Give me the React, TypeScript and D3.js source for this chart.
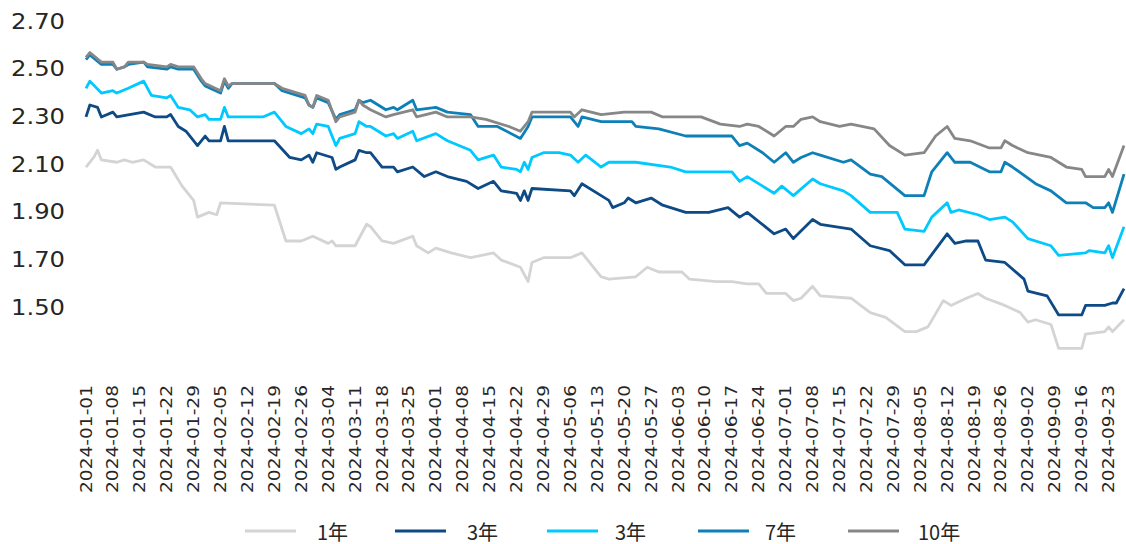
import React from "react";
import * as d3 from "d3";

type Pt = [string, number];

const seriesNames = ["1年", "3年", "3年", "7年", "10年"];
const seriesColors = ["#d4d4d4", "#0d4a86", "#00c9ff", "#0e80b8", "#878787"];

const y1: Pt[] = [
  ["2024-01-01", 2.09], ["2024-01-03", 2.13], ["2024-01-04", 2.16], ["2024-01-05", 2.12], ["2024-01-09", 2.11],
  ["2024-01-11", 2.12], ["2024-01-13", 2.11], ["2024-01-16", 2.12], ["2024-01-19", 2.09], ["2024-01-23", 2.09],
  ["2024-01-26", 2.01], ["2024-01-29", 1.95], ["2024-01-30", 1.88], ["2024-02-02", 1.9], ["2024-02-04", 1.89],
  ["2024-02-05", 1.94], ["2024-02-19", 1.93], ["2024-02-22", 1.78], ["2024-02-26", 1.78], ["2024-02-29", 1.8],
  ["2024-03-04", 1.77], ["2024-03-05", 1.78], ["2024-03-06", 1.76], ["2024-03-11", 1.76], ["2024-03-14", 1.85],
  ["2024-03-15", 1.84], ["2024-03-18", 1.78], ["2024-03-21", 1.77], ["2024-03-26", 1.8], ["2024-03-27", 1.76],
  ["2024-03-30", 1.73], ["2024-04-01", 1.75], ["2024-04-05", 1.73], ["2024-04-10", 1.71], ["2024-04-16", 1.73],
  ["2024-04-18", 1.7], ["2024-04-23", 1.67], ["2024-04-25", 1.61], ["2024-04-26", 1.69], ["2024-04-29", 1.71],
  ["2024-05-06", 1.71], ["2024-05-09", 1.73], ["2024-05-14", 1.63], ["2024-05-16", 1.62], ["2024-05-23", 1.63],
  ["2024-05-26", 1.67], ["2024-05-29", 1.65], ["2024-06-04", 1.65], ["2024-06-06", 1.62], ["2024-06-13", 1.61],
  ["2024-06-17", 1.61], ["2024-06-21", 1.6], ["2024-06-24", 1.6], ["2024-06-26", 1.56], ["2024-07-01", 1.56],
  ["2024-07-03", 1.53], ["2024-07-05", 1.54], ["2024-07-08", 1.59], ["2024-07-10", 1.55], ["2024-07-18", 1.54],
  ["2024-07-23", 1.48], ["2024-07-27", 1.46], ["2024-08-01", 1.4], ["2024-08-04", 1.4], ["2024-08-07", 1.42],
  ["2024-08-11", 1.53], ["2024-08-13", 1.51], ["2024-08-17", 1.54], ["2024-08-20", 1.56], ["2024-08-22", 1.54],
  ["2024-08-27", 1.51], ["2024-08-31", 1.48], ["2024-09-02", 1.44], ["2024-09-04", 1.45], ["2024-09-08", 1.43],
  ["2024-09-10", 1.33], ["2024-09-16", 1.33], ["2024-09-17", 1.39], ["2024-09-22", 1.4], ["2024-09-23", 1.42],
  ["2024-09-24", 1.4], ["2024-09-27", 1.45],
];

const y3: Pt[] = [
  ["2024-01-01", 2.3], ["2024-01-02", 2.35], ["2024-01-04", 2.34], ["2024-01-05", 2.3], ["2024-01-08", 2.32],
  ["2024-01-09", 2.3], ["2024-01-16", 2.32], ["2024-01-19", 2.3], ["2024-01-22", 2.3], ["2024-01-23", 2.31],
  ["2024-01-25", 2.26], ["2024-01-27", 2.24], ["2024-01-30", 2.18], ["2024-02-01", 2.22], ["2024-02-02", 2.2],
  ["2024-02-05", 2.2], ["2024-02-06", 2.26], ["2024-02-07", 2.2], ["2024-02-19", 2.2], ["2024-02-23", 2.13],
  ["2024-02-26", 2.12], ["2024-02-28", 2.14], ["2024-02-29", 2.11], ["2024-03-01", 2.15], ["2024-03-05", 2.13],
  ["2024-03-06", 2.08], ["2024-03-07", 2.09], ["2024-03-11", 2.12], ["2024-03-12", 2.16], ["2024-03-14", 2.15],
  ["2024-03-15", 2.15], ["2024-03-18", 2.09], ["2024-03-21", 2.09], ["2024-03-22", 2.07], ["2024-03-26", 2.09],
  ["2024-03-29", 2.05], ["2024-04-01", 2.07], ["2024-04-04", 2.05], ["2024-04-09", 2.03], ["2024-04-12", 2.0],
  ["2024-04-16", 2.03], ["2024-04-18", 1.99], ["2024-04-22", 1.98], ["2024-04-23", 1.95], ["2024-04-24", 1.99],
  ["2024-04-25", 1.95], ["2024-04-26", 2.0], ["2024-05-06", 1.99], ["2024-05-07", 1.97], ["2024-05-09", 2.02],
  ["2024-05-14", 1.97], ["2024-05-16", 1.95], ["2024-05-17", 1.92], ["2024-05-20", 1.94], ["2024-05-21", 1.96],
  ["2024-05-23", 1.94], ["2024-05-27", 1.96], ["2024-05-30", 1.93], ["2024-06-05", 1.9], ["2024-06-11", 1.9],
  ["2024-06-16", 1.92], ["2024-06-19", 1.88], ["2024-06-21", 1.9], ["2024-06-28", 1.81], ["2024-07-01", 1.83],
  ["2024-07-03", 1.79], ["2024-07-08", 1.87], ["2024-07-10", 1.85], ["2024-07-18", 1.83], ["2024-07-23", 1.76],
  ["2024-07-28", 1.74], ["2024-08-01", 1.68], ["2024-08-06", 1.68], ["2024-08-12", 1.81], ["2024-08-14", 1.77],
  ["2024-08-17", 1.78], ["2024-08-20", 1.78], ["2024-08-22", 1.7], ["2024-08-27", 1.69], ["2024-09-01", 1.62],
  ["2024-09-02", 1.57], ["2024-09-07", 1.55], ["2024-09-10", 1.47], ["2024-09-16", 1.47], ["2024-09-17", 1.51],
  ["2024-09-22", 1.51], ["2024-09-24", 1.52], ["2024-09-25", 1.52], ["2024-09-27", 1.58],
];

const y5: Pt[] = [
  ["2024-01-01", 2.42], ["2024-01-02", 2.45], ["2024-01-05", 2.4], ["2024-01-08", 2.41], ["2024-01-09", 2.4],
  ["2024-01-12", 2.42], ["2024-01-16", 2.45], ["2024-01-18", 2.39], ["2024-01-22", 2.38], ["2024-01-23", 2.39],
  ["2024-01-25", 2.34], ["2024-01-28", 2.33], ["2024-01-30", 2.3], ["2024-02-01", 2.31], ["2024-02-02", 2.29],
  ["2024-02-05", 2.29], ["2024-02-06", 2.34], ["2024-02-07", 2.3], ["2024-02-16", 2.3], ["2024-02-19", 2.32],
  ["2024-02-22", 2.26], ["2024-02-26", 2.23], ["2024-02-28", 2.25], ["2024-02-29", 2.23], ["2024-03-01", 2.27],
  ["2024-03-04", 2.26], ["2024-03-06", 2.18], ["2024-03-07", 2.21], ["2024-03-11", 2.23], ["2024-03-12", 2.28],
  ["2024-03-14", 2.26], ["2024-03-15", 2.26], ["2024-03-19", 2.22], ["2024-03-21", 2.23], ["2024-03-22", 2.21],
  ["2024-03-26", 2.24], ["2024-03-27", 2.2], ["2024-04-01", 2.23], ["2024-04-04", 2.2], ["2024-04-10", 2.16],
  ["2024-04-12", 2.12], ["2024-04-16", 2.14], ["2024-04-18", 2.09], ["2024-04-22", 2.08], ["2024-04-23", 2.07],
  ["2024-04-24", 2.11], ["2024-04-25", 2.08], ["2024-04-26", 2.13], ["2024-04-29", 2.15], ["2024-05-03", 2.15],
  ["2024-05-06", 2.14], ["2024-05-08", 2.11], ["2024-05-10", 2.14], ["2024-05-14", 2.09], ["2024-05-16", 2.11],
  ["2024-05-23", 2.11], ["2024-06-01", 2.09], ["2024-06-05", 2.07], ["2024-06-13", 2.07], ["2024-06-17", 2.07],
  ["2024-06-19", 2.03], ["2024-06-21", 2.05], ["2024-06-25", 2.01], ["2024-06-28", 1.98], ["2024-06-30", 2.01],
  ["2024-07-03", 1.97], ["2024-07-08", 2.04], ["2024-07-10", 2.02], ["2024-07-16", 1.99], ["2024-07-18", 1.97],
  ["2024-07-23", 1.9], ["2024-07-30", 1.9], ["2024-08-01", 1.83], ["2024-08-06", 1.82], ["2024-08-08", 1.88],
  ["2024-08-12", 1.94], ["2024-08-13", 1.9], ["2024-08-15", 1.91], ["2024-08-20", 1.89], ["2024-08-23", 1.87],
  ["2024-08-27", 1.88], ["2024-08-29", 1.86], ["2024-09-02", 1.79], ["2024-09-08", 1.76], ["2024-09-10", 1.72],
  ["2024-09-17", 1.73], ["2024-09-18", 1.74], ["2024-09-22", 1.73], ["2024-09-23", 1.76], ["2024-09-24", 1.71],
  ["2024-09-27", 1.84],
];

const y7: Pt[] = [
  ["2024-01-01", 2.54], ["2024-01-02", 2.56], ["2024-01-05", 2.52], ["2024-01-08", 2.52], ["2024-01-09", 2.5],
  ["2024-01-11", 2.51], ["2024-01-12", 2.52], ["2024-01-16", 2.53], ["2024-01-17", 2.51], ["2024-01-22", 2.5],
  ["2024-01-23", 2.51], ["2024-01-25", 2.5], ["2024-01-29", 2.5], ["2024-01-31", 2.45], ["2024-02-01", 2.43],
  ["2024-02-05", 2.4], ["2024-02-06", 2.45], ["2024-02-07", 2.42], ["2024-02-08", 2.44], ["2024-02-19", 2.44],
  ["2024-02-21", 2.41], ["2024-02-27", 2.38], ["2024-02-28", 2.35], ["2024-02-29", 2.34], ["2024-03-01", 2.38],
  ["2024-03-04", 2.36], ["2024-03-06", 2.29], ["2024-03-07", 2.31], ["2024-03-11", 2.33], ["2024-03-12", 2.37],
  ["2024-03-13", 2.36], ["2024-03-15", 2.37], ["2024-03-19", 2.33], ["2024-03-21", 2.34], ["2024-03-22", 2.33],
  ["2024-03-26", 2.37], ["2024-03-27", 2.33], ["2024-04-01", 2.34], ["2024-04-04", 2.32], ["2024-04-10", 2.31],
  ["2024-04-12", 2.26], ["2024-04-17", 2.26], ["2024-04-23", 2.21], ["2024-04-25", 2.26], ["2024-04-26", 2.3],
  ["2024-05-06", 2.3], ["2024-05-08", 2.26], ["2024-05-09", 2.3], ["2024-05-14", 2.28], ["2024-05-22", 2.28],
  ["2024-05-23", 2.26], ["2024-05-29", 2.25], ["2024-06-05", 2.22], ["2024-06-17", 2.22], ["2024-06-19", 2.18],
  ["2024-06-21", 2.19], ["2024-06-25", 2.15], ["2024-06-28", 2.11], ["2024-07-01", 2.15], ["2024-07-03", 2.11],
  ["2024-07-05", 2.13], ["2024-07-08", 2.15], ["2024-07-10", 2.14], ["2024-07-16", 2.11], ["2024-07-18", 2.12],
  ["2024-07-23", 2.06], ["2024-07-26", 2.05], ["2024-08-01", 1.97], ["2024-08-06", 1.97], ["2024-08-08", 2.07],
  ["2024-08-12", 2.15], ["2024-08-14", 2.11], ["2024-08-18", 2.11], ["2024-08-23", 2.07], ["2024-08-26", 2.07],
  ["2024-08-27", 2.11], ["2024-08-29", 2.09], ["2024-09-04", 2.02], ["2024-09-08", 1.99], ["2024-09-12", 1.94],
  ["2024-09-17", 1.94], ["2024-09-19", 1.92], ["2024-09-22", 1.92], ["2024-09-23", 1.94], ["2024-09-24", 1.9],
  ["2024-09-27", 2.06],
];

const y10: Pt[] = [
  ["2024-01-01", 2.55], ["2024-01-02", 2.57], ["2024-01-05", 2.53], ["2024-01-08", 2.53], ["2024-01-09", 2.5],
  ["2024-01-11", 2.51], ["2024-01-12", 2.53], ["2024-01-16", 2.53], ["2024-01-17", 2.52], ["2024-01-22", 2.51],
  ["2024-01-23", 2.52], ["2024-01-25", 2.51], ["2024-01-29", 2.51], ["2024-01-31", 2.46], ["2024-02-01", 2.44],
  ["2024-02-05", 2.41], ["2024-02-06", 2.46], ["2024-02-07", 2.43], ["2024-02-08", 2.44], ["2024-02-19", 2.44],
  ["2024-02-21", 2.42], ["2024-02-27", 2.39], ["2024-02-28", 2.35], ["2024-02-29", 2.34], ["2024-03-01", 2.39],
  ["2024-03-04", 2.37], ["2024-03-06", 2.28], ["2024-03-07", 2.3], ["2024-03-11", 2.32], ["2024-03-12", 2.37],
  ["2024-03-13", 2.35], ["2024-03-15", 2.33], ["2024-03-19", 2.3], ["2024-03-21", 2.31], ["2024-03-26", 2.33],
  ["2024-03-27", 2.3], ["2024-04-01", 2.32], ["2024-04-04", 2.3], ["2024-04-10", 2.3], ["2024-04-14", 2.29],
  ["2024-04-20", 2.26], ["2024-04-23", 2.24], ["2024-04-25", 2.28], ["2024-04-26", 2.32], ["2024-05-06", 2.32],
  ["2024-05-07", 2.3], ["2024-05-09", 2.33], ["2024-05-14", 2.31], ["2024-05-20", 2.32], ["2024-05-27", 2.32],
  ["2024-05-30", 2.3], ["2024-06-09", 2.3], ["2024-06-14", 2.27], ["2024-06-19", 2.26], ["2024-06-21", 2.27],
  ["2024-06-24", 2.26], ["2024-06-28", 2.22], ["2024-07-01", 2.26], ["2024-07-03", 2.26], ["2024-07-05", 2.29],
  ["2024-07-08", 2.3], ["2024-07-10", 2.28], ["2024-07-15", 2.26], ["2024-07-18", 2.27], ["2024-07-24", 2.25],
  ["2024-07-28", 2.18], ["2024-08-01", 2.14], ["2024-08-06", 2.15], ["2024-08-09", 2.22], ["2024-08-12", 2.26],
  ["2024-08-14", 2.21], ["2024-08-18", 2.2], ["2024-08-23", 2.17], ["2024-08-26", 2.17], ["2024-08-27", 2.2],
  ["2024-08-29", 2.18], ["2024-09-02", 2.15], ["2024-09-08", 2.13], ["2024-09-12", 2.09], ["2024-09-16", 2.08],
  ["2024-09-17", 2.05], ["2024-09-22", 2.05], ["2024-09-23", 2.08], ["2024-09-24", 2.05], ["2024-09-27", 2.18],
];

const xTickLabels = [
  "2024-01-01", "2024-01-08", "2024-01-15", "2024-01-22", "2024-01-29", "2024-02-05", "2024-02-12", "2024-02-19",
  "2024-02-26", "2024-03-04", "2024-03-11", "2024-03-18", "2024-03-25", "2024-04-01", "2024-04-08", "2024-04-15",
  "2024-04-22", "2024-04-29", "2024-05-06", "2024-05-13", "2024-05-20", "2024-05-27", "2024-06-03", "2024-06-10",
  "2024-06-17", "2024-06-24", "2024-07-01", "2024-07-08", "2024-07-15", "2024-07-22", "2024-07-29", "2024-08-05",
  "2024-08-12", "2024-08-19", "2024-08-26", "2024-09-02", "2024-09-09", "2024-09-16", "2024-09-23",
];

const yTicks = [1.5, 1.7, 1.9, 2.1, 2.3, 2.5, 2.7];
const dateRange = ["2024-01-01", "2024-09-27"];
const yRange = [1.3, 2.7];

const W = 1126;
const H = 544;

export default function App() {
  const parse = d3.timeParse("%Y-%m-%d");
  const x = d3
    .scaleTime()
    .domain([parse(dateRange[0]) as Date, parse(dateRange[1]) as Date])
    .range([86, 1124]);
  const y = d3.scaleLinear().domain(yRange).range([355.5, 21.5]);

  const allSeries = [y1, y3, y5, y7, y10];
  const line = d3
    .line<Pt>()
    .x((d) => x(parse(d[0]) as Date))
    .y((d) => y(d[1]));

  const legendLineX = [245, 395, 547, 698, 848];
  const legendTextX = [317, 467, 615, 765, 918];

  return (
    <svg
      width={W}
      height={H}
      style={{ position: "absolute", left: 0, top: 0, background: "#fff" }}
    >
      <rect x={0} y={0} width={W} height={H} fill="#fff" />
      {yTicks.map((t) => (
        <text
          key={t}
          x={65}
          y={y(t)}
          textAnchor="end"
          dominantBaseline="central"
          fontFamily="DejaVu Sans"
          fontSize={21}
          fill="#262626"
          textLength={54}
          lengthAdjust="spacingAndGlyphs"
        >
          {t.toFixed(2)}
        </text>
      ))}
      {xTickLabels.map((lab) => {
        const px = x(parse(lab) as Date);
        return (
          <text
            key={lab}
            transform={`translate(${px},493) rotate(-90)`}
            x={0}
            y={0}
            textAnchor="start"
            dominantBaseline="central"
            fontFamily="DejaVu Sans"
            fontSize={16}
            fill="#262626"
            textLength={108}
            lengthAdjust="spacingAndGlyphs"
          >
            {lab}
          </text>
        );
      })}
      {allSeries.map((s, i) => (
        <path
          key={i}
          d={line(s) || ""}
          fill="none"
          stroke={seriesColors[i]}
          strokeWidth={2.8}
          strokeLinejoin="round"
        />
      ))}
      {seriesNames.map((n, i) => (
        <g key={i}>
          <line
            x1={legendLineX[i]}
            x2={legendLineX[i] + 51}
            y1={531}
            y2={531}
            stroke={seriesColors[i]}
            strokeWidth={3}
          />
          <text
            x={legendTextX[i]}
            y={531}
            dominantBaseline="central"
            fontFamily="'Noto Sans CJK SC', 'Noto Sans'"
            fontSize={20}
            fill="#262626"
          >
            {n}
          </text>
        </g>
      ))}
    </svg>
  );
}
